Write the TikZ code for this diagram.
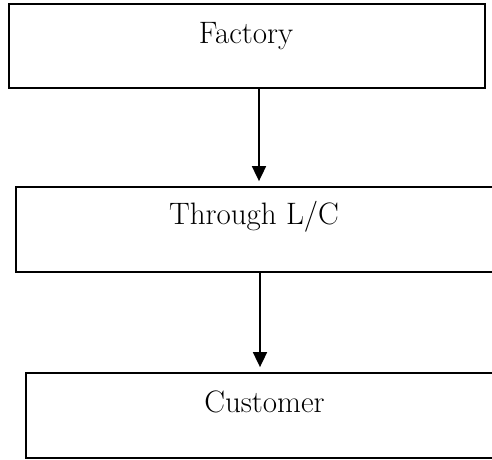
\documentclass[tikz,border=0pt]{standalone}
\usetikzlibrary{arrows.meta}
\begin{document}
\begin{tikzpicture}[x=1pt,y=-1pt,
  box/.style={draw, line width=1.8pt, inner sep=0pt},
  lbl/.style={anchor=base, inner sep=0pt, font=\fontsize{31}{37}\selectfont},
  flow/.style={line width=1.8pt, -{Triangle[length=15pt,width=14pt]}, shorten >=5pt}]
\useasboundingbox (0,0) rectangle (492,459);
\node[box, minimum width=476pt, minimum height=84pt] (b1) at (247,46) {};
\node[box, minimum width=480pt, minimum height=85pt] (b2) at (256,229.5) {};
\node[box, minimum width=477pt, minimum height=85pt] (b3) at (264.5,415.5) {};
\node[lbl] (t1) at (246,43) {Factory};
\node[lbl] (t2) at (254,224) {Through L/C};
\node[lbl] (t3) at (264.5,412) {Customer};
\coordinate (c1) at (259,0);
\coordinate (c2) at (260,0);
\draw[flow] (c1 |- b1.south) -- (c1 |- b2.north);
\draw[flow] (c2 |- b2.south) -- (c2 |- b3.north);
\end{tikzpicture}
\end{document}
